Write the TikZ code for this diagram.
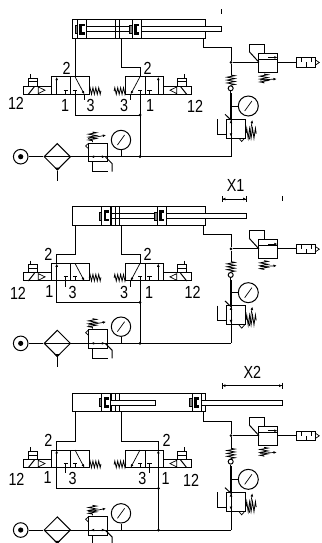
\documentclass[tikz,border=0pt]{standalone}
\usepackage{fontspec}
\setmainfont[FakeStretch=0.82]{Liberation Sans}
\usetikzlibrary{arrows.meta,shapes.geometric,decorations.pathmorphing}

\tikzset{
  pipe/.style={line width=1pt},
  part/.style={draw,line width=1pt,inner sep=0},
  fine/.style={line width=0.7pt},
  flow/.style={line width=0.7pt,-{Latex[length=3.2pt,width=2.8pt]}},
  coil/.style={line width=0.8pt,decorate,decoration={zigzag,amplitude=#1,segment length=2.9pt}},
  coil/.default=3.3pt,
  joint/.style={circle,fill,inner sep=0,minimum size=3pt},
  tag/.style={font=\fontsize{17.5}{17.5}\selectfont,inner sep=0},
  dimen/.style={line width=0.7pt,{Bar[width=6pt]Latex[length=3pt,width=3pt]}-{Latex[length=3pt,width=3pt]Bar[width=6pt]}},
  pics/valve/.style={code={
    \draw[pipe] (70,76.7) -- (70,94.3);
    \draw[pipe] (23.3,86) rectangle (51.7,94.3);
    \draw[pipe] (28.3,94.3) -- (34.5,86.5);
    \draw[fine] (38.3,87) -- (45,90.2) -- (38.3,93.6) -- cycle;
    \draw[fine] (28.3,78) rectangle (37.7,86);
    \fill (28.3,81.2) rectangle (37.7,82.4);
    \draw[fine] (30.7,74) -- (30.7,78);
    \draw[coil] (89.3,91) -- (101,91);
    \draw[flow] (56.7,94.3) -- (56.7,76.9);
    \draw[fine] (65.7,94.3) -- (65.7,90) (63.5,90) -- (67.9,90);
    \draw[fine] (75,94.3) -- (75,90) (72.8,90) -- (77.2,90);
    \draw[flow] (75,76.7) -- (84.3,94.2);
  }},
  pics/piston/.style={code={
    \draw[fill=gray,fine] (-2.4,-4) rectangle (0,4);
    \draw[part,fill=white] (0,-9.25) rectangle (9,9.25);
    \fill (2,-5.5) rectangle (7.2,5.5);
    \fill[white] (4.6,-2.8) rectangle (7.2,2.8);
  }},
}

\begin{document}
\begin{tikzpicture}[x=1pt,y=-1pt]
  \clip (0,0) rectangle (321,543);
  \fill[white] (0,0) rectangle (321,543);
  % parts shared by the three states
  \foreach \dy/\st in {0/a,186.67/b,373.33/c}{
    \begin{scope}[shift={(0,\dy)},name prefix=\st-]
      \node[part,minimum width=132.3pt,minimum height=18.5pt] (cyl) at (138.85,29.25) {};
      \node[part,minimum width=37.6pt,minimum height=17.6pt] (lv) at (70.5,85.5) {};
      \node[part,minimum width=37.6pt,minimum height=17.6pt] (rv) at (144.5,85.5) {};
      \pic at (0,0) {valve};
      \pic[xscale=-1] at (215,0) {valve};
      % supply side
      \node[part,circle,minimum size=14.6pt] (src) at (20.7,156.7) {};
      \fill (src) circle (2.6);
      \node[part,diamond,minimum size=26.6pt] (filt) at (57.3,156.7) {};
      \node[part,minimum width=19pt,minimum height=18.4pt] (reg) at (97.8,152.5) {};
      \node[part,circle,minimum size=19.4pt] (gaugeA) at (121,140) {};
      \coordinate (tee) at (231,156.7);
      \draw[pipe] (src) -- (filt);
      \draw[pipe] (filt.west) -- (filt.east);
      \draw[pipe] (filt.east) -- (reg.west |- filt);
      \draw[pipe] (reg.east |- filt) -- (tee);
      \draw[pipe] (reg.west |- filt) -- (reg.east |- filt);
      \draw[pipe] (gaugeA) -- (gaugeA |- tee);
      \fill (filt.south) -- ++(-3,-3) -- ++(6,0) -- cycle;
      \draw[pipe] (filt.south) -- ++(0,10);
      \draw[flow] (97,156.7) -- (91,156.7);
      \draw[flow] (99,156.7) -- (105,156.7);
      \draw[fine] (gaugeA.center) ++(-3.6,5) -- ++(7.2,-10);
      \draw[pipe] (92.7,161.7) -- (92.7,171.7) -- (108,171.7);
      \draw[pipe] (105.5,157) -- (112,163.5) -- (112,171.7);
      \draw[fine] (88.3,143.5) -- (85.6,146) -- (88.3,148.5);
      \draw[coil=4pt] (92.5,132) -- (92.5,142);
      \draw[flow] (88,138.5) -- (106,135.2);
      % exhaust side
      \node[joint] (jup) at (231,62.3) {};
      \node[part,circle,minimum size=5pt] (chk) at (230.7,88.3) {};
      \node[part,minimum width=19pt,minimum height=19pt] (regB) at (235.5,128.8) {};
      \node[part,circle,minimum size=20pt] (gaugeB) at (248.3,106) {};
      \node[part,minimum width=18.7pt,minimum height=19pt] (vent) at (268.3,62.8) {};
      \node[part,minimum width=19pt,minimum height=9.6pt] (sil) at (305.5,62.5) {};
      \draw[pipe] (cyl.south -| 203.3,0) -- (203.3,47.7) -- (231,47.7) -- (jup);
      \draw[pipe] (jup) -- (vent.west |- jup);
      \draw[pipe] (vent.east |- jup) -- (sil.west |- jup);
      \draw[pipe] (jup) -- (231,75);
      \draw[coil=4pt] (231,75) -- (231,85.8);
      \draw[pipe] (chk) -- (regB.north -| chk);
      \draw[pipe] (231,93) -- (tee);
      \draw[pipe] (gaugeB) -- (gaugeB.west -| 231,0);
      \draw[fine] (gaugeB.center) ++(-3.6,5) -- ++(7.2,-10);
      \draw[flow] (231,128) -- (231,120);
      \draw[flow] (231,128) -- (231,136.5);
      \draw[pipe] (225,114.3) -- (231,120);
      \draw[pipe] (217.3,119) -- (217.3,134) -- (226,134);
      \draw[fine] (239,138.3) -- (241.7,141.5) -- (244.5,138.3);
      \draw[coil=5pt] (246,133.3) -- (256.7,133.3);
      \draw[flow] (249.3,139.5) -- (252.3,120);
      \draw[pipe] (vent.west |- 0,59.3) -- (vent.east |- 0,59.3);
      \draw[flow] (268,57.4) -- (277.5,57.4);
      \draw[pipe] (249.3,51.7) -- (249.3,44.3) -- (264,44.3) -- (264,53.3);
      \draw[pipe] (249.3,51.7) -- (259,62.3);
      \draw[coil=4pt] (264,74) -- (264,83.3);
      \draw[flow] (260,80) -- (276.7,79);
      \draw[fine] (315,59.6) -- (319.3,62.5) -- (315,65.4);
      \draw[fine] (301.7,58) -- (301.7,62.5) (306.7,67.3) -- (306.7,62.5) (311.7,58) -- (311.7,62.5);
    \end{scope}
  }
  % retracted
  \begin{scope}[name prefix=a-]
    \draw[part,fill=white] (86.3,26.7) rectangle (132,31.7);
    \draw[fine] (115,20) -- (115,38.5) (119.3,20) -- (119.3,38.5);
    \pic at (77.3,29.25) {piston};
    \pic at (132,29.25) {piston};
    \draw[fine] (141,20) -- (141,38.5);
    \draw[part,fill=white] (141,26.7) rectangle (221.7,31.7);
    \draw[pipe] (cyl.south -| 75,0) -- (lv.north -| 75,0);
    \draw[pipe] (lv.south -| 75,0) -- (75,115) -- (140,115);
    \draw[pipe] (cyl.south -| 121.7,0) -- (121.7,67.7) -- (140,67.7) -- (rv.north -| 140,0);
    \draw[pipe] (rv.south -| 140,0) -- (140,156.7);
    \node[joint] (ja) at (140,115) {};
    \node[joint] (jb) at (140,156.7) {};
    \draw[fine] (lv.south -| 84.3,0) -- (84.3,100);
    \draw[fine] (rv.south -| 130.7,0) -- (130.7,100);
    \node[tag] (n2a) at (66.7,68) {2};
    \node[tag] (n1a) at (65,105.5) {1};
    \node[tag] (n3a) at (90.7,105.5) {3};
    \node[tag] (n12a) at (16,103.5) {12};
    \node[tag] (n2b) at (147.5,68) {2};
    \node[tag] (n1b) at (150,105.5) {1};
    \node[tag] (n3b) at (124,105.5) {3};
    \node[tag] (n12b) at (195,106) {12};
    \draw[fine] (221.7,9.3) -- (221.7,14);
  \end{scope}
  % first stop
  \begin{scope}[shift={(0,186.67)},name prefix=b-]
    \draw[part,fill=white] (110.7,26.7) rectangle (157,31.7);
    \draw[fine] (111.7,20) -- (111.7,38.5) (115,20) -- (115,38.5) (119.3,20) -- (119.3,38.5);
    \pic at (101.7,29.25) {piston};
    \pic at (157,29.25) {piston};
    \draw[part,fill=white] (166,26.7) rectangle (246.7,31.7);
    \draw[pipe] (cyl.south -| 75,0) -- (75,67.7) -- (56.7,67.7) -- (lv.north -| 56.7,0);
    \draw[pipe] (lv.south -| 56.7,0) -- (56.7,115.7) -- (140,115.7);
    \draw[pipe] (cyl.south -| 121.7,0) -- (121.7,67.7) -- (140,67.7) -- (rv.north -| 140,0);
    \draw[pipe] (rv.south -| 140,0) -- (140,156.7);
    \node[joint] (ja) at (140,115.7) {};
    \node[joint] (jb) at (140,156.7) {};
    \draw[fine] (lv.south -| 65.7,0) -- (65.7,100);
    \draw[fine] (rv.south -| 130.7,0) -- (130.7,100);
    \node[tag] (n2a) at (48.3,67.4) {2};
    \node[tag] (n1a) at (49.3,105) {1};
    \node[tag] (n3a) at (72.7,105.5) {3};
    \node[tag] (n12a) at (18,106.7) {12};
    \node[tag] (n2b) at (147.5,67.4) {2};
    \node[tag] (n1b) at (149,105.5) {1};
    \node[tag] (n3b) at (124,105.5) {3};
    \node[tag] (n12b) at (192.7,106) {12};
    \node[tag] (x1) at (235.7,-1) {X1};
    \coordinate (dl) at (221.7,12.3);
    \coordinate (dr) at (246.7,12.3);
    \draw[dimen] (dl) -- (dr);
    \draw[fine] (282.3,9.3) -- (282.3,14);
  \end{scope}
  % second stop
  \begin{scope}[shift={(0,373.33)},name prefix=c-]
    \draw[fine] (111.7,20) -- (111.7,38.5) (115,20) -- (115,38.5) (119.3,20) -- (119.3,38.5);
    \draw[part,fill=white] (110.7,27.4) rectangle (155.7,32.4);
    \pic at (101.7,29.25) {piston};
    \pic at (192,29.25) {piston};
    \draw[part,fill=white] (201,27.4) rectangle (282.7,32.4);
    \draw[pipe] (cyl.south -| 75,0) -- (75,67.7) -- (56.7,67.7) -- (lv.north -| 56.7,0);
    \draw[pipe] (lv.south -| 56.7,0) -- (56.7,115) -- (158.5,115);
    \draw[pipe] (cyl.south -| 121.7,0) -- (121.7,67.7) -- (158.5,67.7) -- (rv.north -| 158.5,0);
    \draw[pipe] (rv.south -| 158.5,0) -- (158.5,156.7);
    \node[joint] (ja) at (158.5,115) {};
    \node[joint] (jb) at (158.5,156.7) {};
    \draw[fine] (lv.south -| 65.7,0) -- (65.7,100);
    \draw[fine] (rv.south -| 149.3,0) -- (149.3,100);
    \node[tag] (n2a) at (48.3,67.4) {2};
    \node[tag] (n1a) at (47.5,104.5) {1};
    \node[tag] (n3a) at (72.7,105.5) {3};
    \node[tag] (n12a) at (16.5,106) {12};
    \node[tag] (n2b) at (166.7,67.4) {2};
    \node[tag] (n1b) at (165.7,105.5) {1};
    \node[tag] (n3b) at (142.3,105.5) {3};
    \node[tag] (n12b) at (191,106.7) {12};
    \node[tag] (x2) at (252.3,-0.6) {X2};
    \coordinate (dl) at (221.7,12.3);
    \coordinate (dr) at (282.7,12.3);
    \draw[dimen] (dl) -- (dr);
  \end{scope}
\end{tikzpicture}
\end{document}
